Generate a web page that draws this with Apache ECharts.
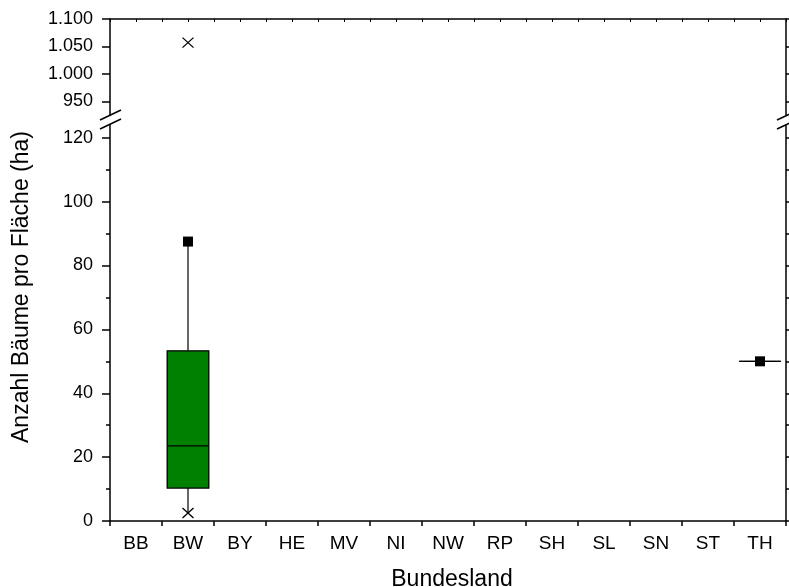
<!DOCTYPE html>
<html>
<head>
<meta charset="utf-8">
<script src="https://cdn.jsdelivr.net/npm/echarts@6/dist/echarts.min.js"></script>
<style>
  html, body { margin: 0; padding: 0; background: #fff; }
  #chart { width: 789px; height: 587px; }
</style>
</head>
<body>
<div id="chart"></div>
<script>
// Kategorien (Bundesländer)
var categories = ["BB", "BW", "BY", "HE", "MV", "NI", "NW", "RP", "SH", "SL", "SN", "ST", "TH"];

// Box-Statistik je Bundesland mit Daten
var boxCats = ["BW", "TH"];
var whiskerLow = [2.5, 50];
var q1 = [10.3, 50];
var median = [23.5, 50];
var q3 = [53.3, 50];
var whiskerHigh = [87.5, 50];

// Mittelwerte (Quadrat)
var meanValues = [87.5, 50];

// Min / Max (Kreuze)
var minCats = ["BW"];
var minValues = [2.5];
var maxCats = ["BW"];
var maxValues = [1057];

// Achsenbeschriftungen
var lowerLabels = [0, 20, 40, 60, 80, 100, 120];
var lowerMinorTicks = [10, 30, 50, 70, 90, 110];
var upperLabels = [950, 1000, 1050, 1100];

var FONT = "'Liberation Sans', Arial, sans-serif";
var black = "#000";

function fmtDe(v) {
  return String(v).replace(/\B(?=(\d{3})+(?!\d))/g, ".");
}

var boxData = boxCats.map(function (c, i) {
  return [categories.indexOf(c), whiskerLow[i], q1[i], median[i], q3[i], whiskerHigh[i]];
});
var meanData = boxCats.map(function (c, i) {
  return [categories.indexOf(c), meanValues[i]];
});
var minData = minCats.map(function (c, i) {
  return [categories.indexOf(c), minValues[i]];
});
var maxData = maxCats.map(function (c, i) {
  return [categories.indexOf(c), maxValues[i]];
});

var chart = echarts.init(document.getElementById("chart"), null, { renderer: "canvas" });

var lineStyle = { color: black, width: 1.5 };
var crossSymbol = "path://M0,0L10,10M10,0L0,10";

chart.setOption({
  animation: false,
  textStyle: { fontFamily: FONT },
  grid: [
    { left: 110, right: 3, top: 19, height: 96, outerBoundsMode: "none" },
    { left: 110, right: 3, top: 125, bottom: 66, outerBoundsMode: "none" }
  ],
  xAxis: [
    // oberer Rahmen
    {
      type: "category", gridIndex: 0, data: categories, position: "top",
      axisLine: { show: true, lineStyle: lineStyle },
      axisTick: { show: false }, axisLabel: { show: false }, splitLine: { show: false }
    },
    // Hilfsticks oben (halbe Kategorien)
    {
      type: "value", gridIndex: 0, min: 0, max: 26, interval: 1, position: "top",
      axisLine: { show: false },
      axisTick: { show: true, inside: true, length: 3, lineStyle: { color: black, width: 1 } },
      axisLabel: { show: false }, splitLine: { show: false }
    },
    // untere Achse
    {
      type: "category", gridIndex: 1, data: categories, position: "bottom",
      boundaryGap: true,
      axisLine: { show: true, onZero: false, lineStyle: lineStyle },
      axisTick: { show: true, length: 5, lineStyle: { color: black, width: 1.5 } },
      axisLabel: { color: black, fontSize: 19, margin: 13, fontFamily: FONT },
      splitLine: { show: false },
      name: "Bundesland", nameLocation: "middle", nameGap: 47,
      nameTextStyle: { color: black, fontSize: 23, fontFamily: FONT, padding: [0, 0, 0, 8] }
    }
  ],
  yAxis: [
    // oberes Segment links
    {
      type: "value", gridIndex: 0, min: 925, max: 1100, position: "left",
      axisLine: { show: true, lineStyle: lineStyle },
      axisTick: { show: true, length: 8, customValues: upperLabels, lineStyle: { color: black, width: 1.5 } },
      axisLabel: { color: black, fontSize: 18, margin: 17, customValues: upperLabels, formatter: fmtDe, fontFamily: FONT },
      splitLine: { show: false }
    },
    // oberes Segment rechts
    {
      type: "value", gridIndex: 0, min: 925, max: 1100, position: "right",
      axisLine: { show: true, lineStyle: lineStyle },
      axisTick: { show: true, length: 8, customValues: upperLabels, lineStyle: { color: black, width: 1.5 } },
      axisLabel: { show: false }, splitLine: { show: false }
    },
    // unteres Segment links
    {
      type: "value", gridIndex: 1, min: 0, max: 124, position: "left",
      axisLine: { show: true, onZero: false, lineStyle: lineStyle },
      axisTick: { show: true, length: 8, customValues: lowerLabels, lineStyle: { color: black, width: 1.5 } },
      axisLabel: { color: black, fontSize: 18, margin: 17, customValues: lowerLabels, fontFamily: FONT },
      splitLine: { show: false }
    },
    // unteres Segment rechts
    {
      type: "value", gridIndex: 1, min: 0, max: 124, position: "right",
      axisLine: { show: true, onZero: false, lineStyle: lineStyle },
      axisTick: { show: true, length: 8, customValues: lowerLabels, lineStyle: { color: black, width: 1.5 } },
      axisLabel: { show: false }, splitLine: { show: false }
    },
    // Nebenticks links
    {
      type: "value", gridIndex: 1, min: 0, max: 124, position: "left",
      axisLine: { show: false },
      axisTick: { show: true, length: 4, customValues: lowerMinorTicks, lineStyle: { color: black, width: 1.5 } },
      axisLabel: { show: false }, splitLine: { show: false }
    },
    // Nebenticks rechts
    {
      type: "value", gridIndex: 1, min: 0, max: 124, position: "right",
      axisLine: { show: false },
      axisTick: { show: true, length: 4, customValues: lowerMinorTicks, lineStyle: { color: black, width: 1.5 } },
      axisLabel: { show: false }, splitLine: { show: false }
    }
  ],
  series: [
    {
      type: "custom",
      xAxisIndex: 2, yAxisIndex: 2,
      data: boxData,
      z: 2,
      renderItem: function (params, api) {
        var x = api.value(0);
        var lo = api.coord([x, api.value(1)]);
        var pq1 = api.coord([x, api.value(2)]);
        var md = api.coord([x, api.value(3)]);
        var pq3 = api.coord([x, api.value(4)]);
        var hi = api.coord([x, api.value(5)]);
        var w = api.size([1, 0])[0] * 0.8;
        var cx = md[0];
        var st = { stroke: black, lineWidth: 1.2 };
        return {
          type: "group",
          children: [
            { type: "line", shape: { x1: cx, y1: pq3[1], x2: cx, y2: hi[1] }, style: st },
            { type: "line", shape: { x1: cx, y1: pq1[1], x2: cx, y2: lo[1] }, style: st },
            {
              type: "rect",
              shape: { x: cx - w / 2, y: pq3[1], width: w, height: pq1[1] - pq3[1] },
              style: { fill: "#008000", stroke: black, lineWidth: 1.3 }
            },
            { type: "line", shape: { x1: cx - w / 2, y1: md[1], x2: cx + w / 2, y2: md[1] }, style: { stroke: black, lineWidth: 1.3 } }
          ]
        };
      }
    },
    {
      type: "scatter", xAxisIndex: 2, yAxisIndex: 2, data: meanData, z: 5,
      symbol: "rect", symbolSize: 10,
      itemStyle: { color: black, opacity: 1 }
    },
    {
      type: "scatter", xAxisIndex: 2, yAxisIndex: 2, data: minData, z: 5,
      symbol: crossSymbol, symbolSize: [11, 10],
      itemStyle: { color: "transparent", borderColor: black, borderWidth: 1.2, opacity: 1 }
    },
    {
      type: "scatter", xAxisIndex: 0, yAxisIndex: 0, data: maxData, z: 5,
      symbol: crossSymbol, symbolSize: [11, 10],
      itemStyle: { color: "transparent", borderColor: black, borderWidth: 1.2, opacity: 1 }
    }
  ],
  graphic: [
    {
      type: "text", x: 22, y: 287, rotation: Math.PI / 2,
      style: {
        text: "Anzahl Bäume pro Fläche (ha)", fill: black,
        font: "23px " + FONT, align: "center", verticalAlign: "middle"
      }
    },
    // Achsenbruch-Markierungen
    { type: "line", shape: { x1: 100, y1: 120, x2: 121, y2: 110 }, style: { stroke: black, lineWidth: 1.5 } },
    { type: "line", shape: { x1: 100, y1: 129, x2: 121, y2: 119 }, style: { stroke: black, lineWidth: 1.5 } },
    { type: "line", shape: { x1: 777, y1: 120, x2: 792, y2: 113 }, style: { stroke: black, lineWidth: 1.5 } },
    { type: "line", shape: { x1: 777, y1: 129, x2: 792, y2: 122 }, style: { stroke: black, lineWidth: 1.5 } }
  ]
});
</script>
</body>
</html>
